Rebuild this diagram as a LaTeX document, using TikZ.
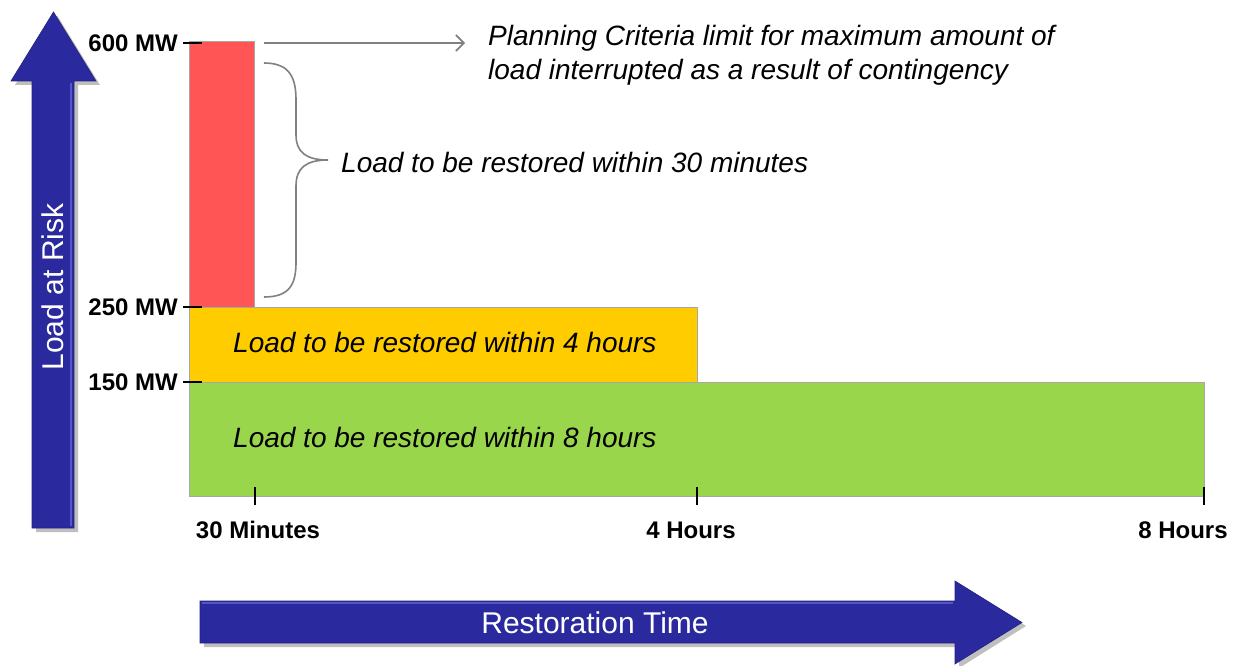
\documentclass[tikz,border=0pt]{standalone}
\usepackage{fontspec}
\setmainfont{Liberation Sans}
\usetikzlibrary{arrows.meta}
\definecolor{barred}{HTML}{FF5555}
\definecolor{baryellow}{HTML}{FFCC00}
\definecolor{bargreen}{HTML}{99D64C}
\definecolor{arrowblue}{HTML}{2A2A9E}
\definecolor{arrowedge}{HTML}{5555C8}
\definecolor{lightgray}{HTML}{808080}
\tikzset{
  bar/.style={draw=black!35, line width=0.8pt, inner sep=0pt},
  ticklabel/.style={font=\fontsize{24}{28}\selectfont\bfseries, inner sep=0pt},
  itallabel/.style={font=\fontsize{28}{34}\selectfont\itshape, inner sep=0pt, text=black},
  tickline/.style={line width=2pt, black},
  graylink/.style={draw=lightgray, line width=1.6pt},
  bigarrow/.style={fill=arrowblue, draw=arrowblue!80!black, line width=0.6pt},
  arrowtext/.style={font=\fontsize{30}{34}\selectfont, text=white, inner sep=0pt}
}
\begin{document}
\begin{tikzpicture}[x=1pt,y=-1pt]
\useasboundingbox (0,0) rectangle (1235,666);

% vertical big arrow
\fill[black!25] (36,85) -- (15,85) -- (57.5,16) -- (100,85) -- (78,85) -- (78,532) -- (36,532) -- cycle;
\path[bigarrow] (32,81) -- (11,81) -- (53.5,12) -- (96,81) -- (74,81) -- (74,528) -- (32,528) -- cycle;
\draw[arrowedge, line width=2pt] (71,83) -- (71,526);
\node[arrowtext, rotate=90] (yaxis) at (53,287) {Load at Risk};

% horizontal big arrow
\fill[black!25] (204,604) -- (959,604) -- (959,584) -- (1026,626) -- (959,668) -- (959,647) -- (204,647) -- cycle;
\path[bigarrow] (200,601) -- (955,601) -- (955,581) -- (1022,622.5) -- (955,664) -- (955,643) -- (200,643) -- cycle;
\draw[arrowedge, line width=2pt] (202,603) -- (953,603);
\node[arrowtext] (xaxis) at (595,623) {Restoration Time};

% bars
\node[bar, fill=bargreen, minimum width=1015pt, minimum height=114pt] (green) at (696.5,439) {};
\node[bar, fill=baryellow, minimum width=508pt, minimum height=75pt] (yellow) at (443,344.5) {};
\node[bar, fill=barred, minimum width=65pt, minimum height=266pt] (red) at (221.5,174) {};

\node[itallabel, anchor=west] (ytext) at (233,342) {Load to be restored within 4 hours};
\node[itallabel, anchor=west] (gtext) at (233,437) {Load to be restored within 8 hours};

% y ticks
\draw[tickline] (183,43) -- (202,43);
\draw[tickline] (183,307) -- (202,307);
\draw[tickline] (183,382) -- (202,382);
\node[ticklabel, anchor=east] (l600) at (178,43) {600 MW};
\node[ticklabel, anchor=east] (l250) at (178,307) {250 MW};
\node[ticklabel, anchor=east] (l150) at (178,382) {150 MW};

% x ticks
\draw[tickline] (254.5,487) -- (254.5,505);
\draw[tickline] (697,487) -- (697,505);
\draw[tickline] (1204,487) -- (1204,505);
\node[ticklabel] (t30) at (258,530) {30 Minutes};
\node[ticklabel] (t4) at (691,530) {4 Hours};
\node[ticklabel] (t8) at (1183,530) {8 Hours};

% planning criteria
\node[itallabel, anchor=north west, align=left] (plan) at (488,25)
  {Planning Criteria limit for maximum amount of\\load interrupted as a result of contingency};
\coordinate (ga) at (264,43);
\coordinate (gb) at (465,43);
\draw[graylink, -{Straight Barb[length=8pt,width=16pt]}] (ga) -- (gb);

% brace
\coordinate (bt) at (264,63);
\coordinate (bb) at (264,297);
\coordinate (btip) at (328,160);
\draw[graylink] (bt) .. controls (290,63) and (296,78) .. (296,100) -- (296,135)
  .. controls (296,152) and (306,160) .. (btip)
  .. controls (306,160) and (296,168) .. (296,186) -- (296,262)
  .. controls (296,284) and (290,297) .. (bb);
\node[itallabel, anchor=west] (rtext) at (341,162) {Load to be restored within 30 minutes};
\end{tikzpicture}
\end{document}
